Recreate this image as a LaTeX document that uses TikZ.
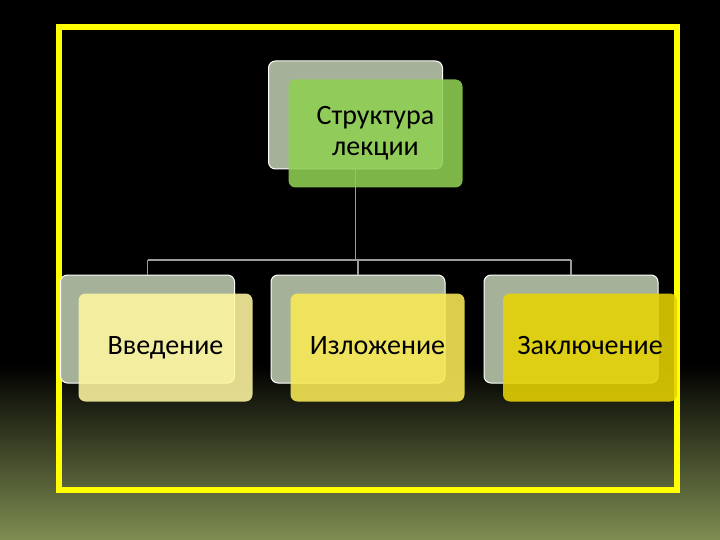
\documentclass[tikz,border=0pt]{standalone}
\usepackage{fontspec}
\setmainfont{Carlito}
\definecolor{backgrey}{HTML}{A5B198}
\definecolor{bgolive}{HTML}{7F8E52}
\definecolor{framey}{HTML}{FFFF00}
\definecolor{linkgrey}{HTML}{9C9C9C}
\definecolor{topgreen}{HTML}{8FCF52}
\definecolor{paleyellow}{HTML}{FEF6A1}
\definecolor{midyellow}{HTML}{FAEB57}
\definecolor{darkyellow}{HTML}{E6D302}
\begin{document}
\begin{tikzpicture}[x=1pt,y=-1pt]
		\newcommand{\boxw}{174pt}
		\newcommand{\boxh}{108pt}
		\newcommand{\rnd}{7pt} % radius of the box corners
		\newcommand{\busy}{260}

		% set the styles of the boxes
		\tikzset{
			backbox/.style={
				draw=white,
				line width=1pt,
				fill=backgrey,
				rounded corners=\rnd,
				minimum width=\boxw,
				minimum height=\boxh
				},
			frontbox/.style={
				fill=#1,
				fill opacity=0.88,
				text opacity=1,
				rounded corners=\rnd,
				minimum width=\boxw,
				minimum height=\boxh,
				align=center,
				font=\fontsize{28}{31}\selectfont
				},
			oneline/.style={
				text height=1.3em,
				text depth=0pt
				},
			link/.style={
				draw=linkgrey,
				line width=1.3pt
				}
		}

		% background
		\useasboundingbox (0,0) rectangle (720,540);
		\fill[black] (0,0) rectangle (720,540);
		\shade[top color=black, bottom color=bgolive] (0,365) rectangle (720,540);

		% yellow frame
		\draw[framey, line width=5.5pt] (59,27) rectangle (677,490);

		% back boxes
		\node[backbox] (topback) at (355.5,115) {};
		\node[backbox] (introback) at (147.5,329) {};
		\node[backbox] (mainback) at (358,329) {};
		\node[backbox] (endback) at (571,329) {};

		% links
		\coordinate (bus) at (0,\busy);
		\draw[link] (topback.south) -- (topback.south |- bus);
		\draw[link] (introback.north |- bus) -- (endback.north |- bus);
		\foreach \b in {introback,mainback,endback}
			\draw[link] (\b.north |- bus) -- (\b.north);

		% front boxes
		\node[frontbox=topgreen] (top) at (375.5,133.5) {Структура\\лекции};
		\node[frontbox=paleyellow, oneline] (intro) at (165.5,347.5) {Введение};
		\node[frontbox=midyellow, oneline] (main) at (377.5,347.5) {Изложение};
		\node[frontbox=darkyellow, oneline] (end) at (590,347.5) {Заключение};
\end{tikzpicture}
\end{document}
